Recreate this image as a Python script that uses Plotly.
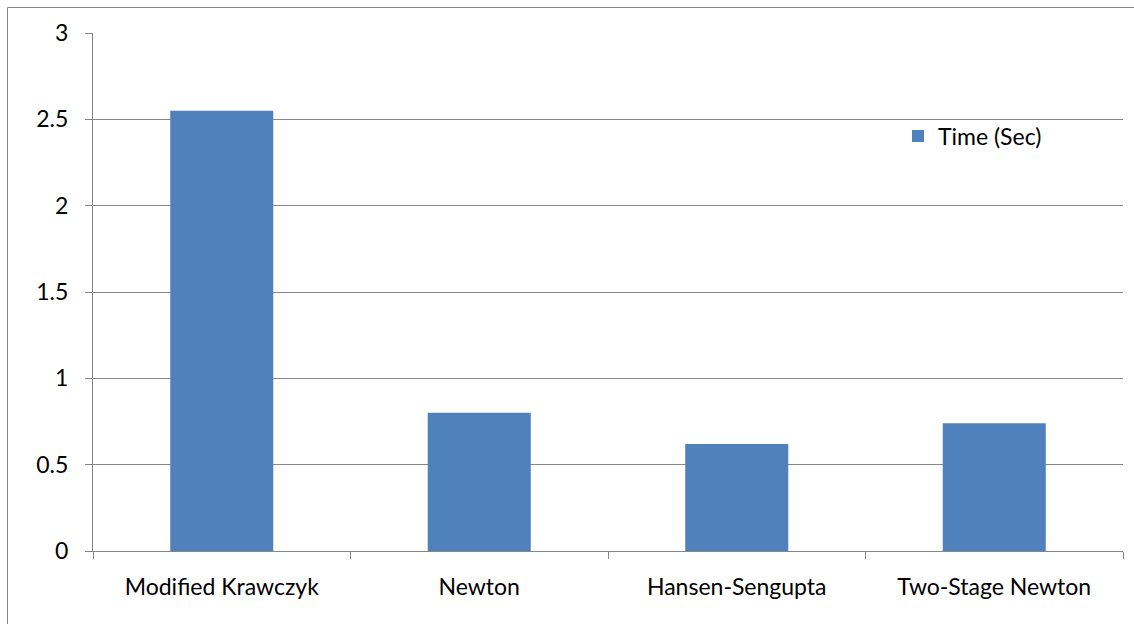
import plotly.graph_objects as go

categories = ["Modified Krawczyk", "Newton", "Hansen-Sengupta", "Two-Stage Newton"]
time_sec = [2.55, 0.80, 0.62, 0.74]
series_name = "Time (Sec)"

W, H = 1134, 624
L, R, T, B = 93, 11, 33, 73
pw, ph = W - L - R, H - T - B

def px(x):
    return (x - L) / pw

def py(y):
    return 1 - (y - T) / ph

grid = "#868686"
font = dict(family="Lato, Open Sans, sans-serif", size=23, color="#000000")

fig = go.Figure()
fig.add_trace(go.Bar(x=categories, y=time_sec, name=series_name,
                     marker=dict(color="#4F81BD", line=dict(width=0)),
                     showlegend=True))

fig.update_layout(
    width=W, height=H,
    margin=dict(l=L, r=R, t=T, b=B, pad=0),
    paper_bgcolor="white", plot_bgcolor="white",
    font=font,
    bargap=0.6,
    showlegend=True,
    legend=dict(x=px(898), y=py(136), xanchor="left", yanchor="middle",
                bgcolor="rgba(0,0,0,0)", font=font, itemwidth=30),
    xaxis=dict(type="category", showline=True, linecolor=grid, linewidth=1,
               ticks="outside", tickson="boundaries", ticklen=7, tickcolor=grid,
               showgrid=False, tickfont=font, ticklabelstandoff=15),
    yaxis=dict(range=[0, 3], dtick=0.5, showline=True, linecolor=grid, linewidth=1,
               ticks="outside", ticklen=7, tickcolor=grid, showgrid=True,
               gridcolor=grid, gridwidth=1, zeroline=False, tickfont=font,
               ticklabelstandoff=12),
    shapes=[
        dict(type="line", xref="paper", yref="paper", x0=px(7.5), x1=px(1134), y0=py(7.5), y1=py(7.5),
             line=dict(color=grid, width=1)),
        dict(type="line", xref="paper", yref="paper", x0=px(7.5), x1=px(7.5), y0=py(7.5), y1=py(624),
             line=dict(color=grid, width=1)),
    ],
)

fig.write_html("out.html")
